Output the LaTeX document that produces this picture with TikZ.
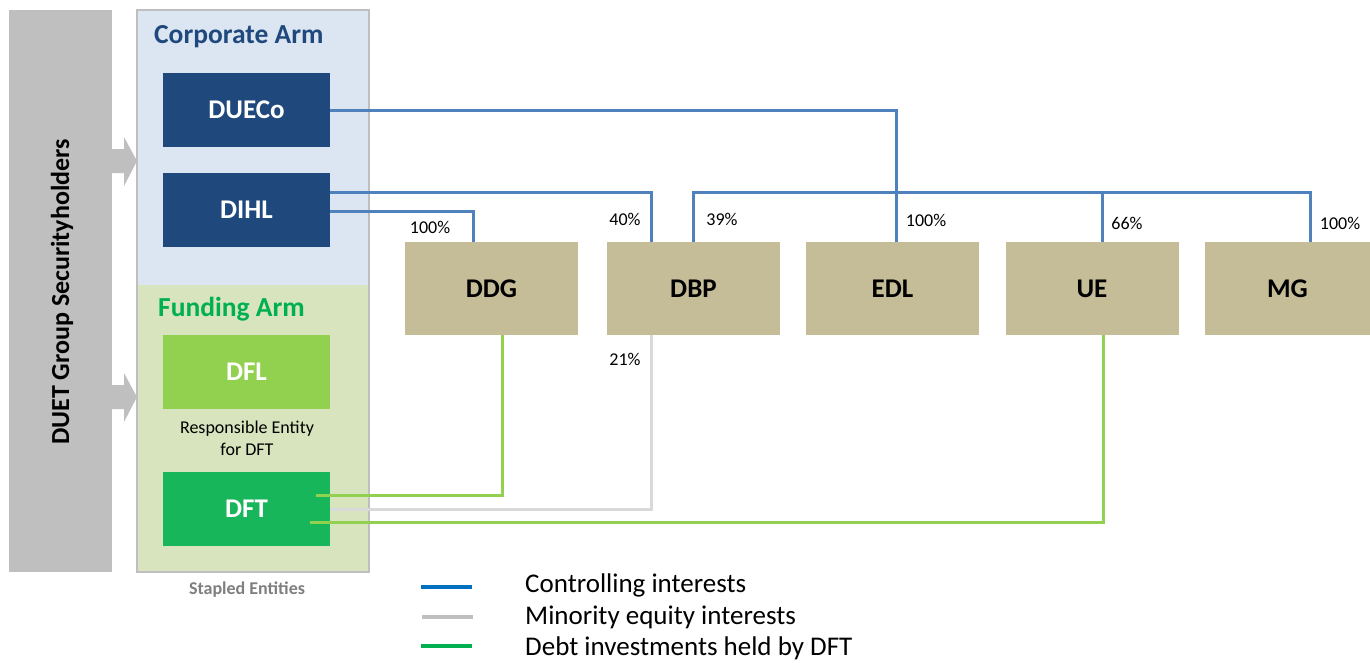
\documentclass[tikz,border=0pt]{standalone}
\usepackage{fontspec}
\setmainfont{Carlito}
\usetikzlibrary{calc}
\definecolor{navy}{HTML}{1F497D}
\definecolor{lblue}{HTML}{DCE6F2}
\definecolor{lgreen}{HTML}{D7E4BD}
\definecolor{tan}{HTML}{C4BD97}
\definecolor{dflgreen}{HTML}{92D050}
\definecolor{dftgreen}{HTML}{17B65A}
\definecolor{fundgreen}{HTML}{00B050}
\definecolor{ctrlblue}{HTML}{4F81BD}
\definecolor{minorgray}{HTML}{D9D9D9}
\definecolor{debtgreen}{HTML}{92D050}
\definecolor{barsgray}{HTML}{BFBFBF}
\definecolor{legblue}{HTML}{0070C0}
\definecolor{leggray}{HTML}{BFBFBF}
\definecolor{leggreen}{HTML}{00B050}
\definecolor{stapgray}{HTML}{7F7F7F}
\begin{document}
\begin{tikzpicture}[x=1pt,y=-1pt,
  bigfont/.style={font=\bfseries\fontsize{27}{32}\selectfont},
  armbox/.style={bigfont,text=white,minimum width=167pt,minimum height=74pt,inner sep=0pt},
  entity/.style={bigfont,text=black,fill=tan,minimum width=173pt,minimum height=93pt,inner sep=0pt},
  pct/.style={font=\fontsize{18}{22}\selectfont,inner sep=0pt},
  ctrl/.style={draw=ctrlblue,line width=3pt},
  minor/.style={draw=minorgray,line width=3pt},
  debt/.style={draw=debtgreen,line width=3pt},
  legline/.style={line width=4pt},
  legtext/.style={font=\fontsize{27}{32}\selectfont,anchor=base west,inner sep=0pt},
  heading/.style={font=\bfseries\fontsize{27.5}{32}\selectfont,anchor=base west,inner sep=0pt}
]
\useasboundingbox (0,0) rectangle (1370,662);
\fill[white] (0,0) rectangle (1370,662);

% securityholders bar
\fill[barsgray] (9,10) rectangle (112,572);
\node[font=\bfseries\fontsize{26}{30}\selectfont,rotate=90,inner sep=0pt] (holders) at (62,292) {DUET Group Securityholders};

% block arrows
\fill[barsgray] (112,149) -- (124,149) -- (124,137) -- (137,161) -- (124,186) -- (124,173) -- (112,173) -- cycle;
\fill[barsgray] (112,385) -- (124,385) -- (124,373) -- (137,397) -- (124,422) -- (124,409) -- (112,409) -- cycle;

% stapled entities box
\fill[lblue] (137,10) rectangle (369,285);
\fill[lgreen] (137,285) rectangle (369,572);
\draw[barsgray,line width=2pt] (137,10) rectangle (369,572);

\node[heading,text=navy] (corp) at (154,43) {Corporate Arm};
\node[heading,text=fundgreen] (fund) at (158,316) {Funding Arm};

\node[armbox,fill=navy] (DUECo) at (246.5,110) {DUECo};
\node[armbox,fill=navy] (DIHL) at (246.5,210) {DIHL};
\node[armbox,fill=dflgreen] (DFL) at (246.5,372) {DFL};
\node[font=\fontsize{18}{22}\selectfont,align=center,inner sep=0pt] (resp) at (247,438) {Responsible Entity\\for DFT};
\node[armbox,fill=dftgreen] (DFT) at (246.5,509) {DFT};
\node[font=\bfseries\fontsize{18}{22}\selectfont,text=stapgray,inner sep=0pt] (stapled) at (247,590) {Stapled Entities};

% entities
\node[entity] (DDG) at (491.5,288.5) {DDG};
\node[entity] (DBP) at (693.5,288.5) {DBP};
\node[entity] (EDL) at (892.5,288.5) {EDL};
\node[entity] (UE) at (1092,288.5) {UE};
\node[entity,minimum width=165pt] (MG) at (1287.5,288.5) {MG};

% controlling interests
\coordinate (edlTop) at ($(EDL.north)+(3.5,0)$);
\coordinate (ueTop) at ($(UE.north)+(10,0)$);
\coordinate (mgTop) at ($(MG.north)+(22.5,0)$);
\coordinate (barL) at ($(DBP.north)+(0,-49.5)$);
\coordinate (barR) at (mgTop |- barL);
\draw[ctrl] (DUECo.east) -| (edlTop);
\draw[ctrl] (DBP.north) -- (barL) -- (barR) -- (mgTop);
\draw[ctrl] (ueTop) -- (ueTop |- barL);
\draw[ctrl] ($(DIHL.east)+(0,-18)$) -| ($(DBP.north)+(-42.5,0)$);
\draw[ctrl] ($(DIHL.east)+(0,1)$) -| ($(DDG.north)+(-18.5,0)$);

% minority & debt
\draw[debt] ($(DDG.south)+(10.5,0)$) |- ($(DFT.east)+(-14,-14)$);
\draw[minor] ($(DBP.south)+(-42.5,0)$) |- (DFT.east);
\draw[debt] ($(UE.south)+(11,0)$) |- ($(DFT.east)+(-20,13)$);

% percentages
\node[pct] (p1) at (430,227) {100\%};
\node[pct] (p2) at (625,219) {40\%};
\node[pct] (p3) at (722,219) {39\%};
\node[pct] (p4) at (926,220) {100\%};
\node[pct] (p5) at (1127,223) {66\%};
\node[pct] (p6) at (1340,223) {100\%};
\node[pct] (p7) at (625,359) {21\%};

% legend
\coordinate (la1) at (421,587); \coordinate (lb1) at (472,587);
\coordinate (la2) at (422,617); \coordinate (lb2) at (473,617);
\coordinate (la3) at (421,646); \coordinate (lb3) at (472,646);
\draw[legline,legblue] (la1) -- (lb1);
\draw[legline,leggray] (la2) -- (lb2);
\draw[legline,leggreen] (la3) -- (lb3);
\node[legtext] (t1) at (525,592) {Controlling interests};
\node[legtext] (t2) at (525,624) {Minority equity interests};
\node[legtext] (t3) at (525,655) {Debt investments held by DFT};
\end{tikzpicture}
\end{document}
